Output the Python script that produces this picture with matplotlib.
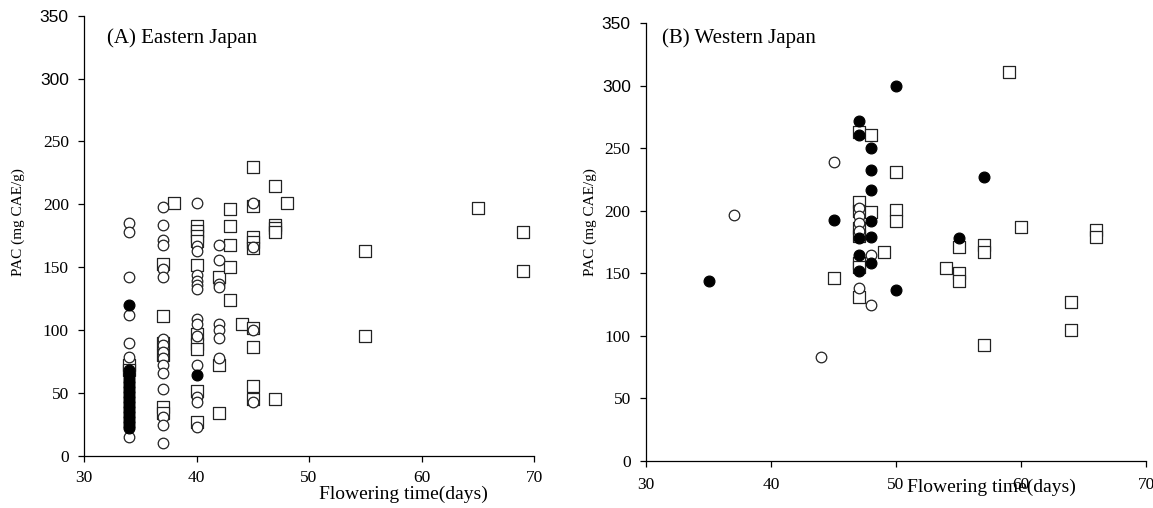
import matplotlib.pyplot as plt


## data: (A) Eastern Japan ##
east_open_x = [34]*7 + [37]*16 + [40]*14 + [42]*8 + [45]*4
east_open_y = [185, 178, 142, 112, 90, 79, 15,
               198, 184, 172, 168, 149, 142, 93, 88, 83, 78, 72, 66, 53, 31, 25, 10,
               201, 167, 163, 144, 139, 136, 133, 109, 105, 95, 72, 47, 43, 23,
               168, 156, 137, 134, 105, 100, 94, 78,
               201, 166, 100, 43]

east_filled_x = [34]*24 + [40]
east_filled_y = [120, 68, 65, 62, 60, 58, 56, 54, 52, 50, 48, 46, 44, 42, 40, 38, 36,
                 34, 32, 30, 28, 26, 24, 22,
                 64]

east_square_x = ([34]*2 + [37]*6 + [38] + [40]*10 + [42]*3 + [43]*5 + [44]
                 + [45]*9 + [47]*5 + [48] + [55]*2 + [65] + [69]*2)
east_square_y = [72, 68,
                 153, 111, 90, 80, 39, 34,
                 201,
                 183, 179, 175, 171, 152, 97, 89, 85, 52, 27,
                 142, 72, 34,
                 196, 183, 168, 150, 124,
                 105,
                 230, 199, 174, 170, 165, 102, 87, 56, 45,
                 215, 184, 181, 178, 45,
                 201,
                 163, 95,
                 197,
                 178, 147]

## data: (B) Western Japan ##
west_open_x = [37, 44, 45, 47, 47, 47, 47, 47, 48, 48]
west_open_y = [197, 83, 239, 202, 196, 190, 184, 138, 165, 125]

west_filled_x = [35, 45, 47, 47, 47, 47, 47, 48, 48, 48, 48, 48, 48, 50, 50, 55, 57]
west_filled_y = [144, 193, 272, 261, 178, 165, 152, 250, 233, 217, 192, 179, 158,
                 300, 137, 178, 227]

west_square_x = [45, 47, 47, 47, 47, 47, 47, 47, 47, 48, 48, 49, 50, 50, 50, 54,
                 55, 55, 55, 57, 57, 57, 59, 60, 64, 64, 66, 66]
west_square_y = [146, 263, 207, 200, 186, 180, 158, 155, 131, 261, 199, 167, 231,
                 201, 192, 154, 171, 150, 144, 173, 167, 93, 311, 187, 127, 105,
                 185, 179]


## plotting ##
plt.rcParams['font.family'] = ['Liberation Serif', 'DejaVu Serif']
fontsize = 12.5
edge = '#222222'

fig = plt.figure(figsize=(11.53, 5.08), dpi=100)
ax1 = fig.add_axes([0.0729, 0.1024, 0.3903, 0.8667])
ax2 = fig.add_axes([0.5603, 0.0925, 0.4337, 0.8616])

panels = [
    # axes, squares, open circles, filled circles, title, title pos, ylabel pos, xlabel pos, x pad
    (ax1, east_square_x, east_square_y, east_open_x, east_open_y,
     east_filled_x, east_filled_y, '(A) Eastern Japan', (0.051, 0.949),
     (-0.131, 0.531), (0.709, -0.068), 6),
    (ax2, west_square_x, west_square_y, west_open_x, west_open_y,
     west_filled_x, west_filled_y, '(B) Western Japan', (0.032, 0.966),
     (-0.098, 0.546), (0.69, -0.041), 7.5),
]

for ax, sx, sy, ox, oy, fx, fy, title, tpos, ylab_pos, xlab_pos, xpad in panels:
    ax.scatter(sx, sy, marker='s', s=72, facecolors='white', edgecolors=edge,
               linewidths=0.9, zorder=2)
    ax.scatter(ox, oy, marker='o', s=58, facecolors='white', edgecolors=edge,
               linewidths=0.9, zorder=3)
    ax.scatter(fx, fy, marker='o', s=60, facecolors='black', edgecolors='black',
               linewidths=0.9, zorder=4)

    ax.set_xlim(30, 70)
    ax.set_ylim(0, 350)
    ax.set_xticks([30, 40, 50, 60, 70])
    ax.set_yticks(range(0, 351, 50))
    for s in ['top', 'right']:
        ax.spines[s].set_visible(False)
    for s in ['left', 'bottom']:
        ax.spines[s].set_linewidth(0.9)
    ax.tick_params(direction='out', length=4, width=0.9, labelsize=fontsize)
    ax.tick_params(axis='y', pad=7)
    ax.tick_params(axis='x', pad=xpad)
    # the two top labels on the y axis are set in a sans face in the original
    for lab in ax.get_yticklabels():
        if lab.get_text() in ('300', '350'):
            lab.set_fontfamily(['Liberation Sans', 'DejaVu Sans'])

    ax.text(tpos[0], tpos[1], title, transform=ax.transAxes, fontsize=15,
            ha='left', va='center')
    ax.set_ylabel('PAC (mg CAE/g)', fontsize=11)
    ax.yaxis.set_label_coords(*ylab_pos)
    ax.set_xlabel('Flowering time(days)', fontsize=14)
    ax.xaxis.set_label_coords(*xlab_pos)

plt.savefig('out.png', dpi=100)
